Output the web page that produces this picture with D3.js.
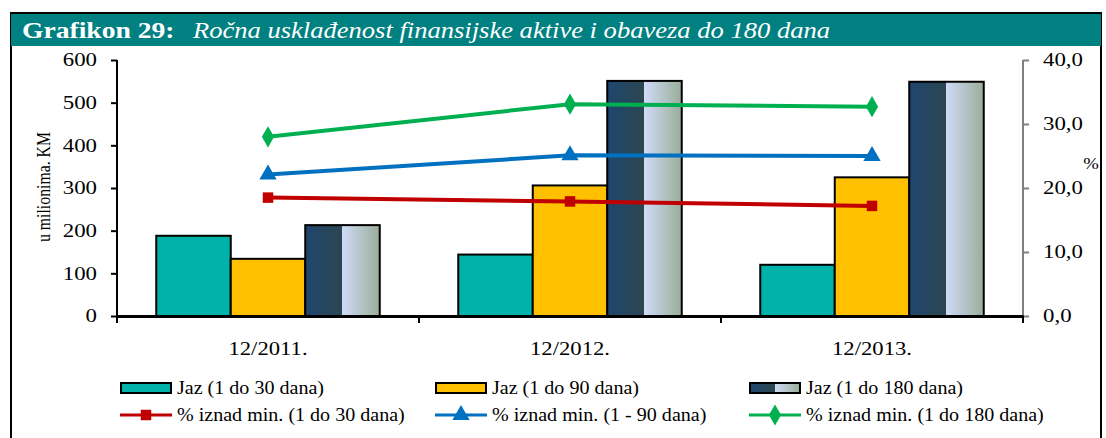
<!DOCTYPE html>
<html><head><meta charset="utf-8">
<script src="https://cdn.jsdelivr.net/npm/d3@7"></script>
<style>body{margin:0;background:#fff}svg{display:block}text{font-family:"Liberation Serif","Times New Roman",serif}</style>
</head><body>
<script>
const categories = ["12/2011.", "12/2012.", "12/2013."];
const barSeries = ["Jaz (1 do 30 dana)", "Jaz (1 do 90 dana)", "Jaz (1 do 180 dana)"];
const jaz30 = [188, 144, 120];
const jaz90 = [134, 306, 325];
const jaz180 = [213, 551, 549];
const lineSeries = ["% iznad min. (1 do 30 dana)", "% iznad min. (1 - 90 dana)", "% iznad min. (1 do 180 dana)"];
const pct30 = [18.5, 17.9, 17.2];
const pct90 = [22.1, 25.1, 25.0];
const pct180 = [28.0, 33.1, 32.7];
const leftTicks = [0, 100, 200, 300, 400, 500, 600];
const rightTicks = [0, 10, 20, 30, 40];
const titleBold = "Grafikon 29:";
const titleItalic = "Ročna usklađenost finansijske aktive i obaveza do 180 dana";

const W = 1106, H = 438;
const svg = d3.select("body").append("svg").attr("width", W).attr("height", H);
const defs = svg.append("defs");
const grad = defs.append("linearGradient").attr("id", "g180").attr("x1", "0").attr("x2", "1").attr("y1", "0").attr("y2", "0");
[["0%", "#1f466f"], ["50%", "#2c4650"], ["50%", "#cfdaf6"], ["100%", "#9aad98"]].forEach(s =>
  grad.append("stop").attr("offset", s[0]).attr("stop-color", s[1]));

// horizontally stretch text elements around their anchor point
function stretch(sel, sx) {
  sel.each(function () {
    const t = d3.select(this);
    const x = +t.attr("x") || 0, y = +t.attr("y") || 0;
    const prev = t.attr("transform") || "";
    t.attr("x", 0).attr("y", 0).attr("transform", `${prev} translate(${x},${y}) scale(${sx},1)`);
  });
}

// frame + title band
svg.append("rect").attr("x", 11).attr("y", 13).attr("width", 1090).attr("height", 440)
  .attr("fill", "none").attr("stroke", "#000").attr("stroke-width", 2);
svg.append("rect").attr("x", 11).attr("y", 14).attr("width", 1090).attr("height", 32).attr("fill", "#008080");
const t1 = svg.append("text").attr("x", 22).attr("y", 38).attr("fill", "#fff").attr("font-size", 23)
  .attr("font-weight", "bold").text(titleBold);
stretch(t1, 1.2);
const t2 = svg.append("text").attr("x", 193).attr("y", 38).attr("fill", "#fff").attr("font-size", 23)
  .attr("font-style", "italic").text(titleItalic);
stretch(t2, 1.155);

const L = 117, R = 1023, T = 60, B = 316;
const x0 = d3.scaleBand().domain(categories).range([L, R]).padding(0);
const x1 = d3.scaleBand().domain(barSeries).range([0, x0.bandwidth()]).paddingInner(0).paddingOuter(0.527);
const yL = d3.scaleLinear().domain([0, 600]).range([B, T]);
const yR = d3.scaleLinear().domain([0, 40]).range([B, T]);

const barVals = [jaz30, jaz90, jaz180];
const barFill = ["#00b2aa", "#ffc000", "url(#g180)"];

// bars
categories.forEach((c, i) => {
  barSeries.forEach((s, j) => {
    svg.append("rect")
      .attr("x", x0(c) + x1(s)).attr("y", yL(barVals[j][i]))
      .attr("width", x1.bandwidth()).attr("height", B - yL(barVals[j][i]))
      .attr("fill", barFill[j]).attr("stroke", "#000").attr("stroke-width", 2);
  });
});

// axes
const axL = svg.append("g").attr("transform", `translate(${L},0)`)
  .call(d3.axisLeft(yL).tickValues(leftTicks).tickSize(6).tickPadding(14));
axL.selectAll("path,line").attr("stroke", "#000").attr("stroke-width", 2);
axL.select(".domain").attr("d", `M0,${T}H0V${B}`).attr("stroke-width", 2);
axL.selectAll("text").attr("font-size", 18).attr("fill", "#000").attr("font-family", "Liberation Serif");
stretch(axL.selectAll("text"), 1.27);

const axR = svg.append("g").attr("transform", `translate(${R},0)`)
  .call(d3.axisRight(yR).tickValues(rightTicks).tickSize(6).tickPadding(14).tickFormat(d => d3.format(".1f")(d).replace(".", ",")));
axR.selectAll("path,line").attr("stroke", "#808080").attr("stroke-width", 2);
axR.select(".domain").attr("d", `M0,${T}H0V${B}`);
axR.selectAll("text").attr("font-size", 18).attr("fill", "#000").attr("font-family", "Liberation Serif");
stretch(axR.selectAll("text"), 1.27);

const axB = svg.append("g").attr("transform", `translate(0,${B})`)
  .call(d3.axisBottom(x0).tickSize(0).tickPadding(26));
axB.select(".domain").attr("stroke", "#000").attr("stroke-width", 3);
axB.selectAll("text").attr("font-size", 18).attr("fill", "#000").attr("font-family", "Liberation Serif");
stretch(axB.selectAll("text"), 1.26);
const bounds = categories.map(c => x0(c)).concat([R]);
svg.append("g").selectAll("line").data(bounds).join("line")
  .attr("x1", d => d).attr("x2", d => d).attr("y1", B).attr("y2", B + 7)
  .attr("stroke", "#000").attr("stroke-width", 2);

svg.append("text").attr("transform", `translate(50,${(T + B) / 2 - 1}) rotate(-90) scale(0.93,1.12)`)
  .attr("text-anchor", "middle").attr("font-size", 17).text("u milionima. KM");
const pctLbl = svg.append("text").attr("x", 1091).attr("y", 169).attr("text-anchor", "middle")
  .attr("font-size", 17).text("%");
stretch(pctLbl, 1.1);

// lines
const lineVals = [pct30, pct90, pct180];
const lineCol = ["#c00000", "#0070c0", "#00b050"];
const markers = [d3.symbolSquare, d3.symbolTriangle, d3.symbolDiamond];
const markSize = [110, 130, 130];
const cx = c => x0(c) + x0.bandwidth() / 2;
const lineGen = d3.line().x((d, i) => cx(categories[i])).y(d => yR(d));
lineVals.forEach((vals, k) => {
  svg.append("path").attr("d", lineGen(vals)).attr("fill", "none")
    .attr("stroke", lineCol[k]).attr("stroke-width", 4);
  vals.forEach((v, i) => {
    svg.append("path").attr("d", d3.symbol().type(markers[k]).size(markSize[k])())
      .attr("transform", `translate(${cx(categories[i])},${yR(v)})`).attr("fill", lineCol[k]);
  });
});

// legend
const colX = [120, 435, 749];
barSeries.forEach((s, j) => {
  const g = svg.append("g").attr("transform", `translate(${colX[j]},388)`);
  g.append("rect").attr("x", 1).attr("y", -5).attr("width", 50).attr("height", 10)
    .attr("fill", barFill[j]).attr("stroke", "#000").attr("stroke-width", 2);
  const tx = g.append("text").attr("x", 57).attr("y", 6).attr("font-size", 18).text(s);
  stretch(tx, 1.115);
});
lineSeries.forEach((s, k) => {
  const g = svg.append("g").attr("transform", `translate(${colX[k]},415)`);
  g.append("line").attr("x1", 0).attr("x2", 52).attr("stroke", lineCol[k]).attr("stroke-width", 3);
  g.append("path").attr("d", d3.symbol().type(markers[k]).size(markSize[k])())
    .attr("transform", "translate(26,0)").attr("fill", lineCol[k]);
  const tx = g.append("text").attr("x", 57).attr("y", 6).attr("font-size", 18).text(s);
  stretch(tx, 1.115);
});
</script>
</body></html>
